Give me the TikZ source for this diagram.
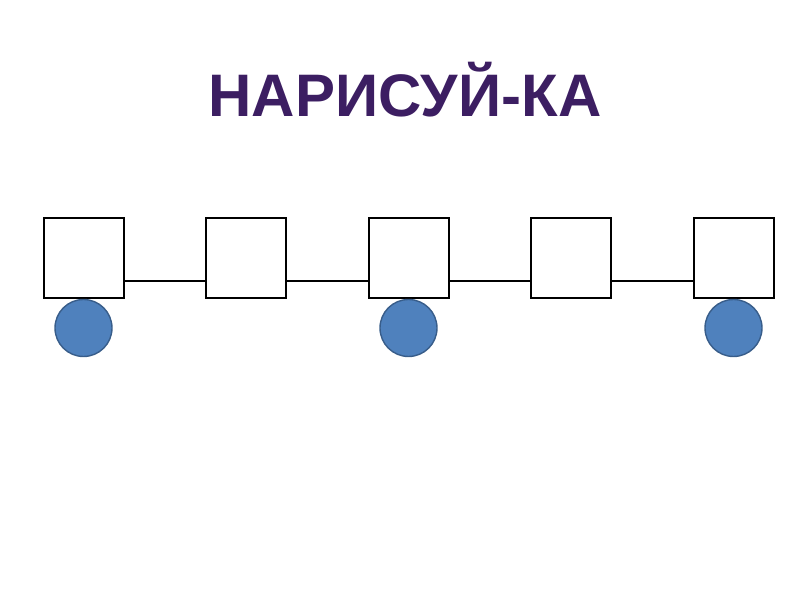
\documentclass[tikz,border=0pt]{standalone}
\usepackage{fontspec}
\setmainfont{Liberation Sans}
\definecolor{titlec}{RGB}{60,30,98}
\definecolor{circfill}{RGB}{79,129,189}
\definecolor{circdraw}{RGB}{56,93,138}
\begin{document}
\begin{tikzpicture}[x=1pt,y=1pt,
  sq/.style={draw=black,line width=2pt,fill=white,minimum size=80pt,inner sep=0pt},
  dot/.style={circle,draw=circdraw,line width=1.4pt,fill=circfill,minimum size=57pt,inner sep=0pt},
  link/.style={draw=black,line width=2pt}]
\useasboundingbox (0,0) rectangle (800,600);
\node[anchor=base,text=titlec,font=\fontsize{60}{60}\selectfont\bfseries,inner sep=0pt] (title) at (405,483) {НАРИСУЙ-КА};
\foreach \i/\x in {1/83.5,2/246,3/408.5,4/571,5/733.5}{
  \coordinate (c\i) at (\x,341.5);
}
\foreach \a/\b in {1/2,2/3,3/4,4/5}{
  \draw[link] ([yshift=-22.5pt]c\a) -- ([yshift=-22.5pt]c\b);
}
\foreach \i in {1,...,5}{
  \node[sq] (s\i) at (c\i) {};
}
\foreach \i in {1,3,5}{
  \node[dot] (d\i) at ([yshift=-69.5pt]c\i) {};
}
\end{tikzpicture}
\end{document}
